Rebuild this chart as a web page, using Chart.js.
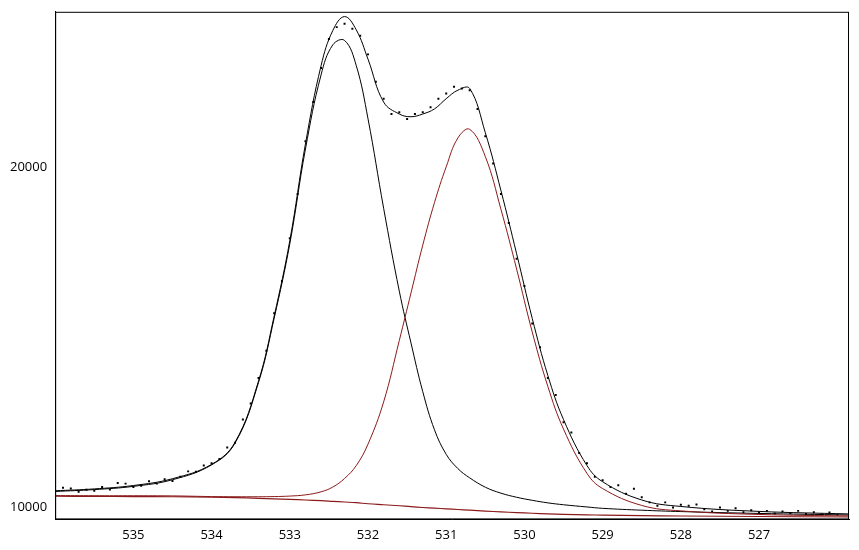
<!DOCTYPE html>
<html><head><meta charset="utf-8">
<script src="https://cdn.jsdelivr.net/npm/chart.js@4"></script>
<style>html,body{margin:0;padding:0;background:#fff}#w{width:859px;height:550px}</style>
</head><body><div id="w"><canvas id="c"></canvas></div>
<script>
const gridX=[536,535.5,535,534.5,534,533.7,533.4,533.2,533.0,532.8,532.6,532.45,532.3,532.15,532.0,531.8,531.6,531.45,531.3,531.15,531.0,530.85,530.7,530.5,530.3,530.1,529.9,529.7,529.5,529.2,529.0,528.5,528,527,525.85];
const background=[10330,10325,10320,10315,10300,10290,10270,10255,10240,10220,10200,10180,10160,10140,10110,10080,10050,10025,10000,9980,9960,9940,9920,9895,9870,9850,9830,9815,9800,9785,9775,9760,9750,9735,9720];
const peak1=[10470,10525,10620,10815,11250,11890,13670,15555,17740,20520,22700,23580,23710,22970,21410,18780,16350,14825,13400,12280,11560,11140,10870,10595,10420,10300,10210,10135,10080,10015,9975,9920,9880,9825,9780];
const peak2=[10350,10345,10345,10340,10320,10315,10315,10320,10335,10370,10460,10600,10850,11230,11860,13100,14900,16300,17700,18950,20000,20850,21100,20300,18750,17000,15150,13550,12300,11000,10555,10060,9900,9795,9750];
const envelope=[10490,10545,10645,10845,11265,11915,13710,15615,17830,20670,22970,24000,24410,24020,23160,21900,21550,21470,21550,21700,22000,22250,22300,21000,19300,17450,15550,13870,12580,11230,10755,10220,10030,9885,9810];
const measX=[535.9,535.8,535.7,535.6,535.5,535.4,535.3,535.2,535.1,535.0,534.9,534.8,534.7,534.6,534.5,534.4,534.3,534.2,534.1,534.0,533.9,533.8,533.7,533.6,533.5,533.4,533.3,533.2,533.1,533.0,532.9,532.8,532.7,532.6,532.5,532.4,532.3,532.2,532.1,532.0,531.9,531.8,531.7,531.6,531.5,531.4,531.3,531.2,531.1,531.0,530.9,530.8,530.7,530.6,530.5,530.4,530.3,530.2,530.1,530.0,529.9,529.8,529.7,529.6,529.5,529.4,529.3,529.2,529.1,529.0,528.9,528.8,528.7,528.6,528.5,528.4,528.3,528.2,528.1,528.0,527.9,527.8,527.7,527.6,527.5,527.4,527.3,527.2,527.1,527.0,526.9,526.8,526.7,526.6,526.5,526.4,526.3,526.2,526.1,526.0];
const measY=[10580,10560,10460,10520,10490,10600,10530,10720,10700,10600,10640,10770,10700,10830,10780,10900,11060,11050,11230,11300,11420,11760,11900,12580,13050,13800,14600,15700,16650,17900,19200,20750,21900,22900,23750,24100,24200,24050,23850,23300,22500,22000,21550,21600,21400,21550,21600,21750,22000,22150,22350,22300,22250,21700,20900,20100,19200,18350,17300,16500,15400,14700,13800,13300,12500,12200,11600,11300,10900,10800,10600,10650,10400,10550,10300,10150,10050,10150,10000,10080,10050,10090,9950,9880,10000,9900,9980,9860,9920,9850,9900,9820,9880,9830,9900,9810,9860,9800,9850,9790];
const xTicks=[535,534,533,532,531,530,529,528,527];
const yTicks=[10000,20000];
const pts=(xs,ys)=>xs.map((x,i)=>({x:x,y:ys[i]}));
const line=(d,c,w)=>({type:'line',data:d,borderColor:c,borderWidth:w,pointRadius:0,tension:0.4,fill:false});
new Chart(document.getElementById('c'),{
 data:{datasets:[
  line(pts(gridX,background),'#8b1a1a',1.2),
  line(pts(gridX,peak2),'#8b1a1a',1),
  line(pts(gridX,peak1),'#000',1),
  line(pts(gridX,envelope),'#000',1),
  {type:'scatter',data:pts(measX,measY),pointStyle:'rect',pointRadius:1.4,backgroundColor:'#000',borderWidth:0}
 ]},
 options:{responsive:true,maintainAspectRatio:false,animation:false,
  layout:{padding:{top:10,right:10,left:6,bottom:4}},
  plugins:{legend:{display:false},tooltip:{enabled:false}},
  scales:{
   x:{type:'linear',reverse:true,min:525.85,max:536,
    afterBuildTicks:a=>{a.ticks=xTicks.map(v=>({value:v}));},
    grid:{display:false,drawTicks:true,tickLength:5,color:'#000'},
    border:{display:true,color:'#000'},
    ticks:{color:'#000',font:{family:'Open Sans',size:13},maxRotation:0,padding:3,callback:v=>String(v)}},
   y:{type:'linear',min:9650,max:24550,
    afterBuildTicks:a=>{a.ticks=yTicks.map(v=>({value:v}));},
    grid:{display:false,drawTicks:true,tickLength:4,color:'#000'},
    border:{display:true,color:'#000'},
    ticks:{color:'#000',font:{family:'Open Sans',size:13},padding:4,callback:v=>String(v)}}
  }},
 plugins:[{id:'frame',afterDraw(ch){const a=ch.chartArea,c=ch.ctx;c.save();c.strokeStyle='#000';c.lineWidth=1;c.strokeRect(a.left+0.5,a.top+0.5,a.width-1,a.height-1);c.restore();}}]
});
</script></body></html>
